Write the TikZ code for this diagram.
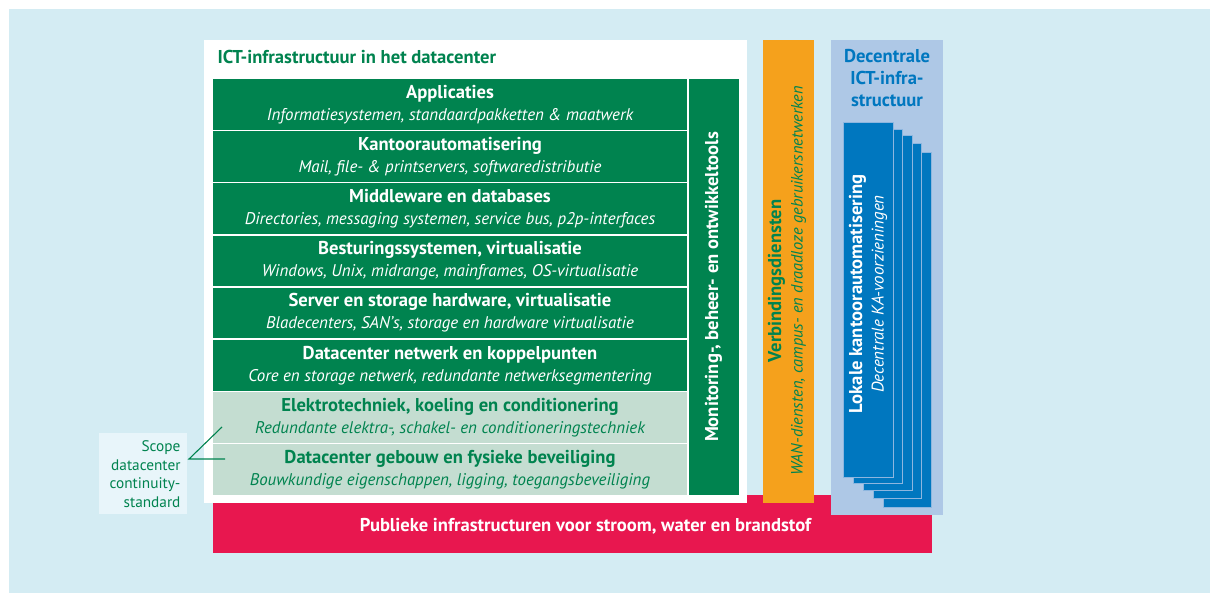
\documentclass[tikz,border=0pt]{standalone}
\usepackage{fontspec}
\setmainfont{PT Sans}
\usepackage{xcolor}
\usepackage{tikz}
\usetikzlibrary{calc}

\definecolor{bgblue}{HTML}{D4ECF3}
\definecolor{dcgreen}{HTML}{00834F}
\definecolor{lightgreen}{HTML}{C4DDD1}
\definecolor{wanorange}{HTML}{F5A11C}
\definecolor{decblue}{HTML}{AEC8E6}
\definecolor{kablue}{HTML}{0077BF}
\definecolor{kaedge}{HTML}{8DB6DF}
\definecolor{publicred}{HTML}{E8174F}
\definecolor{scopebg}{HTML}{E8F5FA}

\newcommand*{\kopfont}{\fontsize{18.6}{22}\selectfont\bfseries}
\newcommand*{\subfont}{\fontsize{16.9}{22}\selectfont\itshape}

\begin{document}
\begin{tikzpicture}[x=1pt,y=-1pt]
        % Define styles
        \tikzset{
            box/.style={rectangle, inner sep=0pt, outer sep=0pt},
            layer/.style={box, fill=dcgreen, text=white, minimum width=474pt, minimum height=50.6pt,
                align=center, font=\fontsize{16.9}{22}\selectfont},
            facility/.style={layer, fill=lightgreen, text=dcgreen},
            sheet/.style={box, fill=kablue, draw=kaedge, line width=0.8pt},
            vtext/.style={rotate=90, align=center, font=\fontsize{16.9}{21.5}\selectfont},
            scopeline/.style={draw=dcgreen, line width=1.1pt}
        }

        % Background
        \useasboundingbox (0,0) rectangle (1210,593);
        \fill[white] (0,0) rectangle (1210,593);
        \fill[bgblue] (9,9) rectangle (1210,593);

        % Base and columns
        \node[box, fill=publicred, minimum width=719pt, minimum height=58pt] (publiek) at (572.5,524) {};
        \node[box, fill=white, minimum width=543pt, minimum height=463pt] (datacenter) at (475.5,271.5) {};
        \node[box, fill=wanorange, minimum width=51pt, minimum height=463pt] (verbinding) at (788,271.5) {};
        \node[box, fill=decblue, minimum width=112pt, minimum height=475pt] (decentraal) at (887,277.5) {};
        \node[text=white, font=\kopfont] (publiektekst) at (585.5,526)
              {Publieke infrastructuren voor stroom, water en brandstof};

        % Title
        \node[anchor=west, text=dcgreen, font=\kopfont] (titel) at (214,57)
              {ICT-infrastructuur in het datacenter};

        % Layers
        \node[layer] (applicaties) at (450,104.3)
              {{\kopfont Applicaties}\\{\subfont Informatiesystemen, standaardpakketten \& maatwerk}};
        \node[layer] (kantoor) at (450,156.5)
              {{\kopfont Kantoorautomatisering}\\{\subfont Mail, file- \& printservers, softwaredistributie}};
        \node[layer] (middleware) at (450,208.7)
              {{\kopfont Middleware en databases}\\{\subfont Directories, messaging systemen, service bus, p2p-interfaces}};
        \node[layer] (besturing) at (450,260.9)
              {{\kopfont Besturingssystemen, virtualisatie}\\{\subfont Windows, Unix, midrange, mainframes, OS-virtualisatie}};
        \node[layer] (server) at (450,313.1)
              {{\kopfont Server en storage hardware, virtualisatie}\\{\subfont Bladecenters, SAN's, storage en hardware virtualisatie}};
        \node[layer] (netwerk) at (450,365.3)
              {{\kopfont Datacenter netwerk en koppelpunten}\\{\subfont Core en storage netwerk, redundante netwerksegmentering}};
        \node[facility] (elektro) at (450,417.5)
              {{\kopfont Elektrotechniek, koeling en conditionering}\\{\subfont Redundante elektra-, schakel- en conditioneringstechniek}};
        \node[facility] (gebouw) at (450,469.7)
              {{\kopfont Datacenter gebouw en fysieke beveiliging}\\{\subfont Bouwkundige eigenschappen, ligging, toegangsbeveiliging}};

        % Monitoring column
        \node[box, fill=dcgreen, minimum width=50pt, minimum height=416pt] (monitoring) at (713.5,287) {};
        \node[vtext, text=white, font=\kopfont] (monitortekst) at (monitoring)
              {Monitoring-, beheer- en ontwikkeltools};

        % Verbindingsdiensten
        \node[vtext, text=dcgreen] (verbindtekst) at (787,281)
              {{\kopfont Verbindingsdiensten}\\{\fontsize{16.4}{22}\selectfont\itshape WAN-diensten, campus- en draadloze gebruikersnetwerken}};

        % Decentrale ICT
        \node[align=center, text=kablue, font=\fontsize{18.6}{22}\selectfont\bfseries] (decentitel) at (887,78)
              {Decentrale\\ICT-infra-\\structuur};
        \node[sheet, minimum width=48pt, minimum height=355pt] (sheet5) at (907,329.5) {};
        \node[sheet, minimum width=48pt, minimum height=355pt] (sheet4) at (897,320.5) {};
        \node[sheet, minimum width=49pt, minimum height=355pt] (sheet3) at (887.5,313) {};
        \node[sheet, minimum width=49pt, minimum height=354pt] (sheet2) at (877.5,306) {};
        \node[sheet, minimum width=50pt, minimum height=355pt] (sheet1) at (868,299.5) {};
        \node[vtext, text=white] (katekst) at ([yshift=5.5pt]sheet1.center)
              {{\kopfont Lokale kantoorautomatisering}\\{\subfont Decentrale KA-voorzieningen}};

        % Scope
        \node[box, fill=scopebg, minimum width=88pt, minimum height=81pt] (scope) at (143,473.5) {};
        \node[anchor=east, align=right, text=dcgreen, font=\fontsize{15.3}{18.5}\selectfont] (scopetekst) at (184,474)
              {Scope\\datacenter\\continuity-\\standard};
        \coordinate (scopetip) at (189,459);
        \draw[scopeline] ($(elektro.west)+(9,9.5)$) -- (scopetip) -- ($(gebouw.west)+(12,-10.7)$);
\end{tikzpicture}
\end{document}
